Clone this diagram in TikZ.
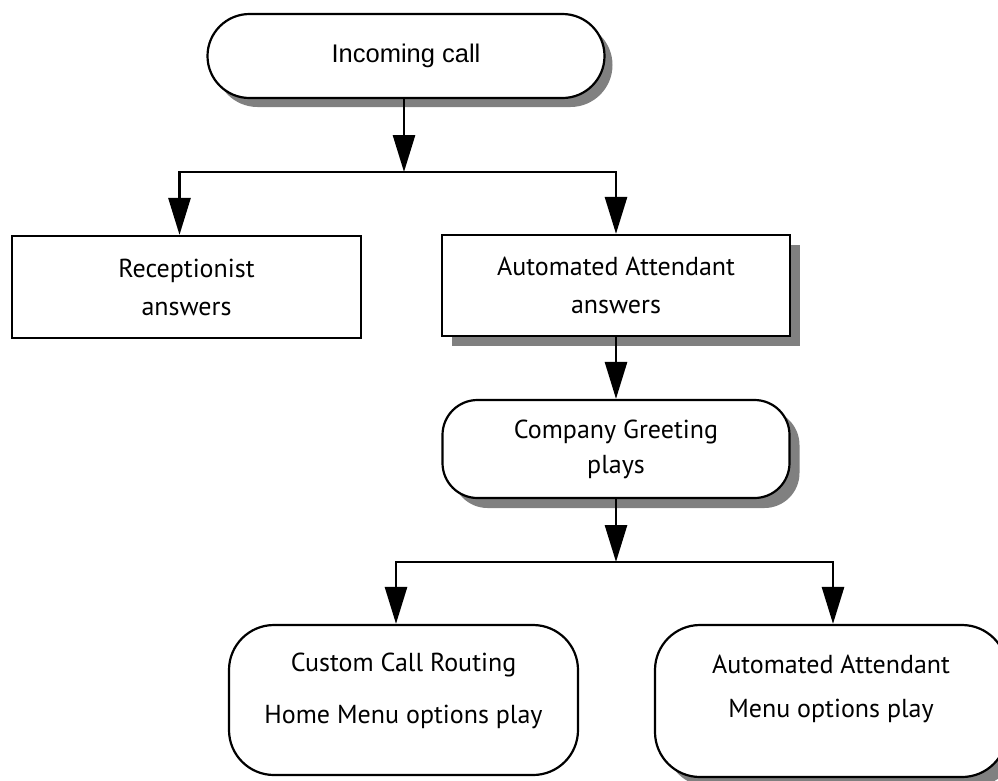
\documentclass[tikz,border=0pt]{standalone}
\usepackage{fontspec}
\setmainfont{PT Sans}
\newfontfamily\callfont{Liberation Sans}
\usetikzlibrary{positioning, shadows, arrows.meta}

\begin{document}
\begin{tikzpicture}[x=1pt, y=-1pt,
    box/.style={draw, line width=2.2pt, fill=white, align=center, inner sep=0pt,
      font=\fontsize{26}{38}\selectfont},
    boxshadow/.style={drop shadow={shadow xshift=10pt, shadow yshift=-10pt, fill=black!50, opacity=1}},
    conn/.style={line width=2.8pt, -{Triangle[length=37pt, width=22pt]}}]
      \useasboundingbox (0,0) rectangle (998,780);
      \coordinate (split1) at (404,172);
      \coordinate (split2) at (616,562);
      \node[box, drop shadow={shadow xshift=8pt, shadow yshift=-9pt, fill=black!50, opacity=1},
        rounded corners=42pt, minimum width=397pt, minimum height=84pt,
        font=\callfont\fontsize{25.5}{30}\selectfont] (call) at (406,56) {Incoming call};
      \node[box, minimum width=349pt, minimum height=102pt] (recep) at (186.5,287) {Receptionist\\answers};
      \node[box, boxshadow, minimum width=348pt, minimum height=101pt] (auto) at (616,285.5) {Automated Attendant\\answers};
      \node[box, boxshadow, rounded corners=35pt, minimum width=347pt, minimum height=98pt] (greet) at (616,449) {Company Greeting\\[-3pt]plays};
      \node[box, rounded corners=45pt, minimum width=349pt, minimum height=150pt, text depth=24pt] (route) at (403.5,700) {Custom Call Routing\\[14pt]Home Menu options play};
      \node[box, boxshadow, rounded corners=45pt, minimum width=352pt, minimum height=152pt, text depth=30pt] (menu) at (831,701) {Automated Attendant\\[6pt]Menu options play};
      \draw[conn] (call.south -| split1) -- (split1);
      \draw[conn] (split1) -| ([xshift=-7pt]recep.north);
      \draw[conn] (split1) -| (auto.north);
      \draw[conn] (auto.south) -- (greet.north);
      \draw[conn] (greet.south) -- (split2);
      \draw[conn] (split2) -| ([xshift=-7.5pt]route.north);
      \draw[conn] (split2) -| ([xshift=2pt]menu.north);
    \end{tikzpicture}
\end{document}
